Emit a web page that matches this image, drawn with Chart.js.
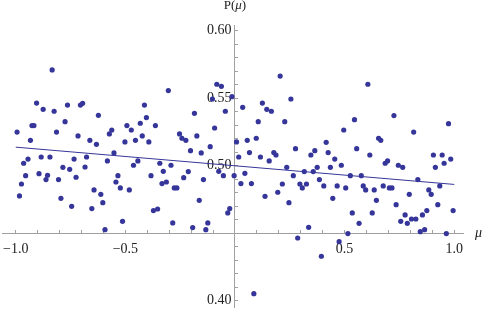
<!DOCTYPE html>
<html>
<head>
<meta charset="utf-8">
<script src="https://cdn.jsdelivr.net/npm/chart.js@4"></script>
<style>
  html, body { margin: 0; padding: 0; background: #fff; }
  #wrap { width: 485px; height: 310px; position: relative; }
</style>
</head>
<body>
<div id="wrap"><canvas id="myChart"></canvas></div>
<script>
// mu values (roughly every 0.01 from -1 to 1)
const muValues = [
  -0.834, -0.905, -0.875, -0.825, -0.764, -0.705, -0.695, -0.775, -0.994, -0.926,
  -0.917, -0.814, -0.716, -0.933, -0.944, -0.964, -0.884, -0.844, -0.734, -0.677,
  -0.785, -0.754, -0.684, -0.955, -0.894, -0.855, -0.862, -0.805, -0.725, -0.974,
  -0.983, -0.794, -0.745,
  -0.623, -0.662, -0.632, -0.573, -0.562, -0.552, -0.582, -0.493, -0.473, -0.502,
  -0.432, -0.413, -0.404, -0.363, -0.423, -0.454, -0.393, -0.443, -0.463, -0.343,
  -0.327, -0.534, -0.543, -0.523, -0.482, -0.383, -0.333, -0.643, -0.612, -0.653,
  -0.603, -0.513, -0.593, -0.372, -0.353,
  -0.313, -0.304, -0.292, -0.277, -0.265, -0.284, -0.253, -0.242, -0.224, -0.234,
  -0.213, -0.203, -0.185, -0.174, -0.154, -0.144, -0.163, -0.193, -0.124, -0.133,
  -0.113, -0.093, -0.083, -0.062, -0.103, -0.014, -0.044, -0.074, -0.053, -0.004,
  0.007, 0.017, -0.024, -0.033,
  0.035, 0.027, 0.045, 0.056, 0.066, 0.075, 0.086, 0.097, 0.106, 0.116,
  0.125, 0.145, 0.166, 0.137, 0.156, 0.177, 0.187, 0.195, 0.206, 0.216,
  0.227, 0.236, 0.246, 0.255, 0.266, 0.276, 0.286, 0.296, 0.307, 0.316,
  0.326, 0.336, 0.346, 0.357, 0.364,
  0.375, 0.385, 0.405, 0.416, 0.425, 0.435, 0.455, 0.446, 0.466, 0.485,
  0.496, 0.505, 0.475, 0.515, 0.394, 0.526, 0.535, 0.545, 0.555, 0.566,
  0.576, 0.585, 0.596, 0.606, 0.615, 0.626, 0.635, 0.645, 0.655, 0.665,
  0.676, 0.685, 0.696, 0.704,
  0.716, 0.725, 0.735, 0.745, 0.765, 0.756, 0.776, 0.786, 0.795, 0.805,
  0.825, 0.815, 0.834, 0.845, 0.865, 0.855, 0.875, 0.884, 0.895, 0.905,
  0.914, 0.925, 0.934, 0.945, 0.954, 0.964, 0.974, 0.984, 0.995
];
const pValues = [
  0.571, 0.5465, 0.5418, 0.5404, 0.545, 0.545, 0.5463, 0.5327, 0.525, 0.5298,
  0.5298, 0.525, 0.5221, 0.5189, 0.505, 0.5019, 0.5065, 0.5065, 0.505, 0.5065,
  0.4989, 0.4974, 0.4991, 0.4927, 0.4942, 0.493, 0.4898, 0.4898, 0.4915, 0.4865,
  0.4777, 0.4759, 0.47,
  0.5374, 0.5189, 0.5159, 0.5236, 0.5265, 0.5095, 0.5036, 0.5298, 0.5265, 0.5177,
  0.5315, 0.545, 0.5357, 0.5298, 0.5221, 0.5189, 0.5177, 0.5036, 0.5004, 0.5019,
  0.4959, 0.4927, 0.488, 0.4836, 0.4821, 0.4927, 0.4868, 0.4821, 0.4789, 0.4683,
  0.4727, 0.4589, 0.4527, 0.4668, 0.468,
  0.488, 0.5557, 0.5004, 0.4836, 0.4836, 0.4577, 0.5236, 0.5204, 0.5189, 0.4912,
  0.4957, 0.5112, 0.5389, 0.5221, 0.5095, 0.4898, 0.4744, 0.4542, 0.4577, 0.4527,
  0.5142, 0.528, 0.5604, 0.5589, 0.5495, 0.5512, 0.5404, 0.4959, 0.4927, 0.4927,
  0.5177, 0.5065, 0.4683, 0.4651,
  0.5433, 0.4868, 0.4944, 0.5189, 0.5098, 0.4868, 0.4053, 0.5204, 0.5327, 0.5065,
  0.5465, 0.5418, 0.5404, 0.4774, 0.5036, 0.5098, 0.508, 0.4804, 0.5665, 0.4865,
  0.5327, 0.4989, 0.4727, 0.5495, 0.4927, 0.5127, 0.4465, 0.4865, 0.4836, 0.4957,
  0.4865, 0.4544, 0.508, 0.4957, 0.5112,
  0.4989, 0.4898, 0.4851, 0.5174, 0.5098, 0.4989, 0.505, 0.4759, 0.4851, 0.5004,
  0.5265, 0.4836, 0.4438, 0.4498, 0.433, 0.4927, 0.4651, 0.5342, 0.5127, 0.4574,
  0.4927, 0.4851, 0.4821, 0.5604, 0.508, 0.4651, 0.4821, 0.4744, 0.5204, 0.5189,
  0.4851, 0.5019, 0.5036, 0.4836,
  0.4836, 0.5372, 0.4712, 0.5004, 0.4989, 0.4589, 0.4636, 0.4574, 0.4789, 0.4606,
  0.4606, 0.525, 0.4898, 0.4512, 0.4527, 0.4636, 0.4668, 0.4821, 0.4789, 0.508,
  0.4989, 0.4712, 0.4851, 0.508, 0.5019, 0.4498, 0.5312, 0.505, 0.4668
];

// fitted line, end points
const fitMu = [-1.0, 1.0];
const fitP = [0.5138, 0.4862];

// ticks (every tick gets a mark, only some get a label)
const xTickValues = [-1.0, -0.9, -0.8, -0.7, -0.6, -0.5, -0.4, -0.3, -0.2, -0.1, 0,
                     0.1, 0.2, 0.3, 0.4, 0.5, 0.6, 0.7, 0.8, 0.9, 1.0];
const xTickLabels = [-1.0, -0.5, 0.5, 1.0];
const yTickValues = [0.40, 0.41, 0.42, 0.43, 0.44, 0.45, 0.46, 0.47, 0.48, 0.49, 0.50,
                     0.51, 0.52, 0.53, 0.54, 0.55, 0.56, 0.57, 0.58, 0.59, 0.60];
const yTickLabels = [0.40, 0.50, 0.55, 0.60];

const dotColor = "#36369a";
const axisColor = "#a0a0a0";
const textFont = '"Liberation Serif", "DejaVu Serif", serif';

function hasLabel(list, v) {
  return list.some(l => Math.abs(l - v) < 1e-9);
}

// axes sit inside the plot, so they should not eat any layout space
function noSpace(s) {
  s.width = s.isHorizontal() ? s.width : 0;
  s.height = s.isHorizontal() ? 0 : s.height;
  s.paddingLeft = 0;
  s.paddingRight = 0;
  s.paddingTop = 0;
  s.paddingBottom = 0;
}

// axis names at the ends of the axes
const axisTitles = {
  id: "axisTitles",
  afterDraw(chart) {
    const { ctx, scales: { x, y } } = chart;
    ctx.save();
    ctx.fillStyle = "#222";
    ctx.textBaseline = "middle";
    ctx.textAlign = "left";
    const up = "13px " + textFont;
    const it = "italic 13px " + textFont;
    // P(mu) above the vertical axis
    ctx.font = up;
    const w1 = ctx.measureText("P(").width;
    ctx.font = it;
    const w2 = ctx.measureText("μ").width;
    ctx.font = up;
    const w3 = ctx.measureText(")").width;
    const px = x.getPixelForValue(0) - (w1 + w2 + w3) / 2;
    const py = 6;
    ctx.fillText("P(", px, py);
    ctx.font = it;
    ctx.fillText("μ", px + w1, py);
    ctx.font = up;
    ctx.fillText(")", px + w1 + w2, py);
    // mu at the right of the horizontal axis
    ctx.font = "italic 14px " + textFont;
    ctx.fillText("μ", x.right + 12, y.getPixelForValue(0.45));
    ctx.restore();
  }
};

const ctx = document.getElementById("myChart");
new Chart(ctx, {
  type: "scatter",
  data: {
    datasets: [
      {
        data: muValues.map((m, i) => ({ x: m, y: pValues[i] })),
        backgroundColor: dotColor,
        pointRadius: 2.6,
        pointHoverRadius: 2.6,
        pointBorderWidth: 0
      },
      {
        type: "line",
        data: fitMu.map((m, i) => ({ x: m, y: fitP[i] })),
        borderColor: dotColor,
        borderWidth: 1,
        pointRadius: 0,
        fill: false
      }
    ]
  },
  options: {
    responsive: true,
    maintainAspectRatio: false,
    animation: false,
    layout: { padding: { left: 0, right: 22, top: 25, bottom: 3 } },
    plugins: { legend: { display: false }, tooltip: { enabled: false } },
    scales: {
      x: {
        type: "linear",
        min: -1.06,
        max: 1.04,
        position: { y: 0.45 },
        afterBuildTicks: s => { s.ticks = xTickValues.map(v => ({ value: v })); },
        afterFit: noSpace,
        // negative length: marks point up into the plot, like the original
        grid: { drawOnChartArea: false, tickLength: -4, color: axisColor },
        border: { color: axisColor },
        ticks: {
          autoSkip: false,
          maxRotation: 0,
          padding: 12,
          color: "#222",
          font: { family: textFont, size: 14 },
          callback: v => hasLabel(xTickLabels, v) ? v.toFixed(1).replace("-", "−") : ""
        }
      },
      y: {
        type: "linear",
        min: 0.3954,
        max: 0.6043,
        position: { x: 0 },
        afterBuildTicks: s => { s.ticks = yTickValues.map(v => ({ value: v })); },
        afterFit: noSpace,
        grid: { drawOnChartArea: false, tickLength: -4, color: axisColor },
        border: { color: axisColor },
        ticks: {
          autoSkip: false,
          color: "#222",
          font: { family: textFont, size: 14 },
          // trailing space keeps the label off the axis line
          callback: v => hasLabel(yTickLabels, v) ? v.toFixed(2) + " " : ""
        }
      }
    }
  },
  plugins: [axisTitles]
});
</script>
</body>
</html>
